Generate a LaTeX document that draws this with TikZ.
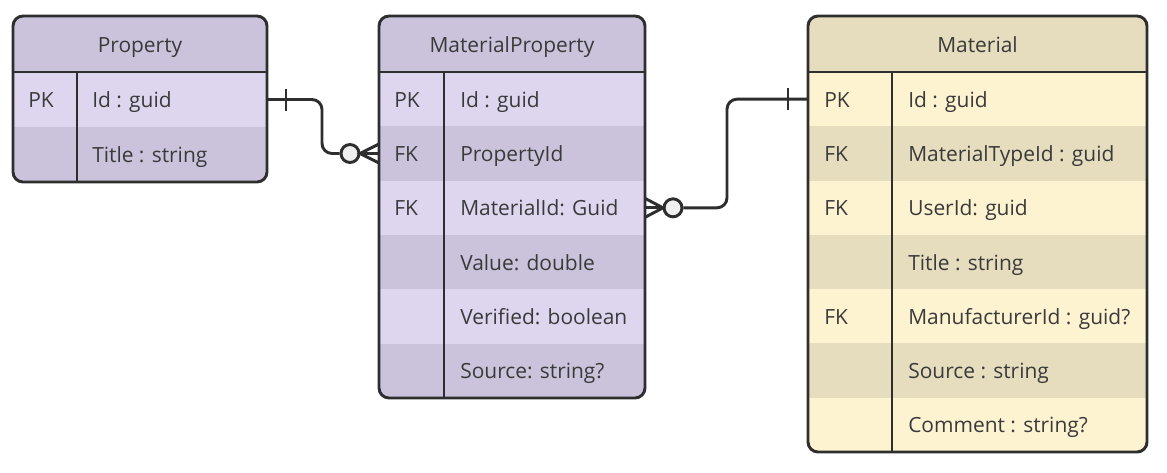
\documentclass[tikz,border=0pt]{standalone}
\usepackage{fontspec}
\setmainfont{Open Sans}
\usetikzlibrary{calc}
\definecolor{pd}{HTML}{CBC3DB}
\definecolor{pl}{HTML}{DED5EF}
\definecolor{md}{HTML}{E5DDBD}
\definecolor{ml}{HTML}{FEF3D1}
\definecolor{ink}{HTML}{2E2E2E}
\definecolor{txtc}{HTML}{3A3A3A}
\definecolor{circfill}{HTML}{EFEFEF}
\begin{document}
\begin{tikzpicture}[x=0.75pt,y=-0.75pt,
  rowbox/.style={rectangle,inner sep=0pt,outer sep=0pt,draw=none},
  lbl/.style={anchor=base west,inner sep=0pt,font=\fontsize{15.7}{19}\selectfont,text=txtc},
  headlbl/.style={anchor=base,inner sep=0pt,font=\fontsize{15.7}{19}\selectfont,text=txtc},
  frame/.style={draw=ink,line width=2.2pt},
  conn/.style={draw=ink,line width=2.2pt},
  zcirc/.style={circle,draw=ink,line width=2.2pt,fill=circfill,minimum size=13.5pt,inner sep=0pt}]
\useasboundingbox (0,0) rectangle (1167,472);

% ---------------- Property ----------------
\begin{scope}
\clip[rounded corners=7.5pt] (13,16) rectangle (267,182);
\node[rowbox,fill=pd,minimum width=254*0.75pt,minimum height=56*0.75pt] (p-h) at (140,44) {};
\foreach \i/\c in {1/pl,2/pd}{
  \node[rowbox,fill=\c,minimum width=254*0.75pt,minimum height=55*0.75pt] (p-r\i) at (140,{72+(\i-0.5)*55}) {};
}
\end{scope}
\draw[frame] (p-h.south west) -- (p-h.south east);
\draw[frame] (77,72) -- (77,182);
\draw[frame,rounded corners=7.5pt] (13,16) rectangle (267,182);
\node[headlbl] (p-t) at (140,52) {Property};
\node[lbl] (p-k1) at (28,107.5) {PK};
\node[lbl] (p-f1) at (92,107.5) {Id : guid};
\node[lbl] (p-f2) at (92,162.5) {Title : string};

% ---------------- MaterialProperty ----------------
\begin{scope}
\clip[rounded corners=7.5pt] (379,16) rectangle (645,398);
\node[rowbox,fill=pd,minimum width=266*0.75pt,minimum height=56*0.75pt] (mp-h) at (512,44) {};
\foreach \i/\c in {1/pl,2/pd,3/pl,4/pd,5/pl,6/pd}{
  \node[rowbox,fill=\c,minimum width=266*0.75pt,minimum height=54.33*0.75pt] (mp-r\i) at (512,{72+(\i-0.5)*54.33}) {};
}
\end{scope}
\draw[frame] (mp-h.south west) -- (mp-h.south east);
\draw[frame] (444,72) -- (444,398);
\draw[frame,rounded corners=7.5pt] (379,16) rectangle (645,398);
\node[headlbl] (mp-t) at (512,52) {MaterialProperty};
\foreach \i/\k/\f in {1/PK/{Id : guid},2/FK/PropertyId,3/FK/{MaterialId: Guid},4//{Value: double},5//{Verified: boolean},6//{Source: string?}}{
  \node[lbl] (mp-k\i) at (394,{72+(\i-0.5)*54.33+8}) {\k};
  \node[lbl] (mp-f\i) at (460,{72+(\i-0.5)*54.33+8}) {\f};
}

% ---------------- Material ----------------
\begin{scope}
\clip[rounded corners=7.5pt] (808,16) rectangle (1147,452);
\node[rowbox,fill=md,minimum width=339*0.75pt,minimum height=56*0.75pt] (m-h) at (977.5,44) {};
\foreach \i/\c in {1/ml,2/md,3/ml,4/md,5/ml,6/md,7/ml}{
  \node[rowbox,fill=\c,minimum width=339*0.75pt,minimum height=54.29*0.75pt] (m-r\i) at (977.5,{72+(\i-0.5)*54.29}) {};
}
\end{scope}
\draw[frame] (m-h.south west) -- (m-h.south east);
\draw[frame] (892,72) -- (892,452);
\draw[frame,rounded corners=7.5pt] (808,16) rectangle (1147,452);
\node[headlbl] (m-t) at (977.5,52) {Material};
\foreach \i/\k/\f in {1/PK/{Id : guid},2/FK/{MaterialTypeId : guid},3/FK/{UserId: guid},4//{Title : string},5/FK/{ManufacturerId : guid?},6//{Source : string},7//{Comment : string?}}{
  \node[lbl] (m-k\i) at (824,{72+(\i-0.5)*54.29+8}) {\k};
  \node[lbl] (m-f\i) at (908,{72+(\i-0.5)*54.29+8}) {\f};
}

% ---------------- Connector 1: Property.Id -> MaterialProperty.PropertyId ----------------
\coordinate (j1) at (322,0);
\node[zcirc] (c1) at ($(mp-r2.west)+(-29,0)$) {};
\draw[conn,rounded corners=7.5pt] (p-r1.east) -- (p-r1.east -| j1) -- (j1 |- c1) -- (c1.west);
\draw[conn] ($(p-r1.east)+(19,-11)$) -- ($(p-r1.east)+(19,11)$);
\draw[conn] (c1.east) -- (mp-r2.west);
\draw[conn] ($(mp-r2.west)+(0,-9.5)$) -- ($(mp-r2.west)+(-19,0)$) -- ($(mp-r2.west)+(0,9.5)$);

% ---------------- Connector 2: MaterialProperty.MaterialId -> Material.Id ----------------
\coordinate (j2) at (727,0);
\node[zcirc] (c2) at ($(mp-r3.east)+(28,0)$) {};
\draw[conn,rounded corners=7.5pt] (c2.east) -- (c2 -| j2) -- (j2 |- m-r1) -- (m-r1.west);
\draw[conn] ($(m-r1.west)+(-20,-11)$) -- ($(m-r1.west)+(-20,11)$);
\draw[conn] (mp-r3.east) -- (c2.west);
\draw[conn] ($(mp-r3.east)+(0,-9.5)$) -- ($(mp-r3.east)+(18,0)$) -- ($(mp-r3.east)+(0,9.5)$);
\end{tikzpicture}
\end{document}
